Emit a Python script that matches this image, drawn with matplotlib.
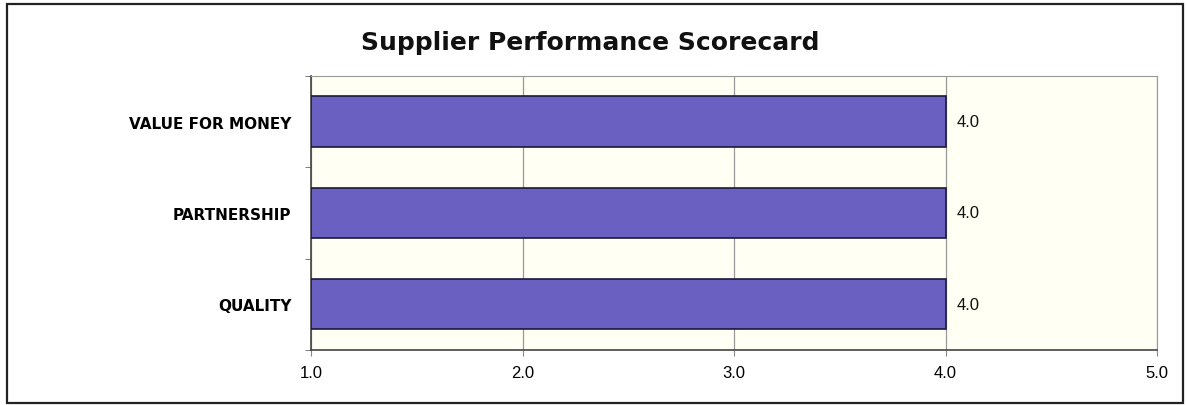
import matplotlib.pyplot as plt
from matplotlib.patches import Rectangle
from matplotlib.ticker import FixedLocator

categories = ["QUALITY", "PARTNERSHIP", "VALUE FOR MONEY"]
scores = [4.0, 4.0, 4.0]
x_ticks = [1.0, 2.0, 3.0, 4.0, 5.0]
x_tick_labels = ["1.0", "2.0", "3.0", "4.0", "5.0"]

bar_color = "#6a60c2"

fig = plt.figure(figsize=(11.87, 4.06), dpi=100)
fig.patch.set_facecolor("white")

# cornice esterna
fig.patches.append(Rectangle((0.006, 0.006), 0.991, 0.982, transform=fig.transFigure,
                             fill=False, edgecolor="#222222", linewidth=1.6))

ax = fig.add_axes([0.262, 0.1355, 0.7128, 0.675])
ax.set_facecolor("#fffff4")

y = list(range(len(categories)))
ax.barh(y, [s - 1.0 for s in scores], left=1.0, height=0.55,
        color=bar_color, edgecolor="#1a1a3a", linewidth=1.2, zorder=3)

for yi, s in zip(y, scores):
    ax.text(s + 0.052, yi, f"{s:.1f}", va="center", ha="left",
            fontsize=12, family="Liberation Sans", color="#111111")

ax.set_xlim(1.0, 5.0)
ax.set_ylim(-0.5, len(categories) - 0.5)
ax.set_xticks(x_ticks)
ax.set_xticklabels(x_tick_labels, family="Liberation Sans", fontsize=12)
ax.set_yticks(y)
ax.set_yticklabels(categories, fontweight="bold", fontsize=11)
ax.tick_params(axis="y", length=0, pad=14)
ax.yaxis.set_minor_locator(FixedLocator([-0.5, 0.5, 1.5, 2.5]))
ax.tick_params(axis="y", which="minor", length=4, color="#666666")
ax.tick_params(axis="x", length=4, color="#888888", pad=7)

ax.grid(axis="x", color="#999999", linewidth=0.9, zorder=0)
for side in ["top", "right"]:
    ax.spines[side].set_color("#999999")
for side in ["left", "bottom"]:
    ax.spines[side].set_color("#444444")
    ax.spines[side].set_linewidth(1.2)

fig.text(0.497, 0.895, "Supplier Performance Scorecard", ha="center", va="center",
         fontsize=18, fontweight="bold", color="#111111")

fig.savefig("out.png", dpi=100)
